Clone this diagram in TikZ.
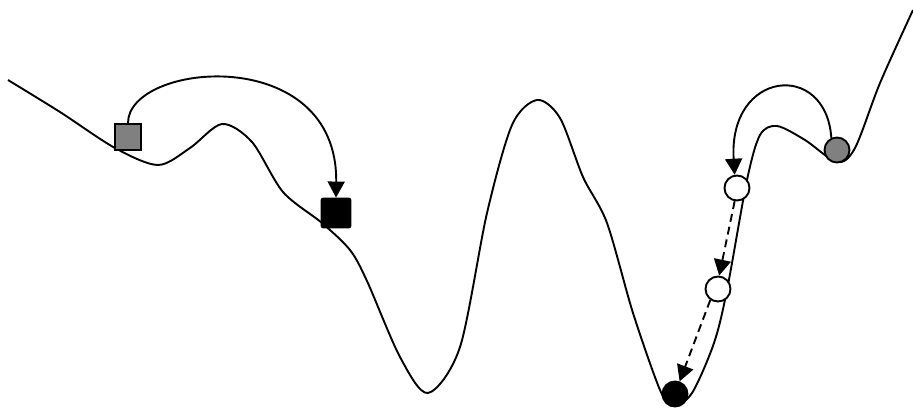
\documentclass[tikz,border=0pt]{standalone}
\usetikzlibrary{arrows.meta}
\begin{document}
\begin{tikzpicture}[x=1pt,y=-1pt,
  curve/.style={line width=1.9pt, line join=round},
  conn/.style={line width=1.9pt, -{Triangle[length=16pt,width=17pt]}},
  dconn/.style={conn, dash pattern=on 8pt off 5pt},
  sq/.style={draw=black, line width=1.9pt, minimum size=26pt, inner sep=0pt, fill=black!50},
  bsq/.style={draw=black, line width=1.9pt, minimum size=29pt, inner sep=0pt, fill=black, rounded corners=2pt},
  ball/.style={circle, draw=black, line width=1.9pt, minimum size=25pt, inner sep=0pt}]
\useasboundingbox (0,0) rectangle (913,410);
\draw[curve] plot[smooth, tension=0.5] coordinates {
  (8,80) (60,112) (115,148) (158,165) (190,148) (222,124) (252,142)
  (283,192) (322,223) (350,250) (367,281) (400,357) (428,393) (460,347) (487,213)
  (512,125) (537,100) (560,118) (583,177) (607,223) (633,313) (660,390)
  (673,406) (692,393) (714,343) (727,290) (747,180) (760,135) (777,126)
  (805,140) (837,162) (855,148) (880,83) (913,10)};
\node[sq]  (gs) at (128,137) {};
\node[bsq] (bs) at (336,213) {};
\node[ball, fill=black!50] (gc) at (837,150) {};
\node[ball, fill=white] (w1) at (737,188) {};
\node[ball, fill=white] (w2) at (718,289) {};
\node[ball, fill=black] (bc) at (675,394) {};
\draw[conn] (gs.north) .. controls (128,62) and (338,42) .. (bs.north);
\draw[conn] (gc.115) .. controls (826,60) and (728,70) .. (w1.100);
\draw[dconn] (w1.260) -- (w2.85);
\draw[dconn] (w2.235) -- (bc.70);
\end{tikzpicture}
\end{document}
